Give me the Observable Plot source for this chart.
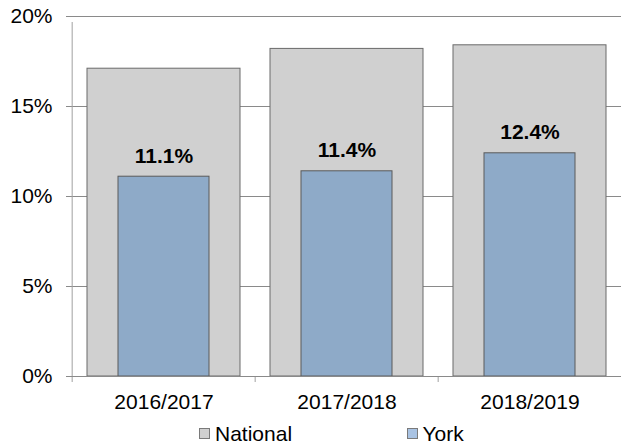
<!DOCTYPE html>
<html><head><meta charset="utf-8">
<script src="https://cdn.jsdelivr.net/npm/d3@7"></script>
<script src="https://cdn.jsdelivr.net/npm/@observablehq/plot@0.6"></script>
<style>
body{margin:0;background:#fff;font-family:"Liberation Sans",Arial,sans-serif;}
#legend{position:relative;width:621px;height:27px;font-size:21px;color:#000;}
.sw{position:absolute;width:9px;height:9px;border:1px solid #7a7a7a;}
.lb{position:absolute;line-height:1;white-space:nowrap;}
</style></head><body>
<div id="chart"></div>
<div id="legend"></div>
<script>
const years = ["2016/2017", "2017/2018", "2018/2019"];
const national = [17.1, 18.2, 18.4];
const york = [11.1, 11.4, 12.4];
const yTicks = [0, 5, 10, 15, 20];
const seriesNames = ["National", "York"];
const seriesFill = ["#d0d0d0", "#8eaac8"];
const legendFill = ["#d0d0d0", "#a9c3e3"];

const W = 621, H = 418, mL = 71, mR = -1, mT = 16, mB = 42;
const step = (W - mL - mR) / years.length;

const natData = years.map((y, i) => ({year: y, v: national[i]}));
const yorkData = years.map((y, i) => ({year: y, v: york[i]}));

const chart = Plot.plot({
  width: W, height: H,
  marginLeft: mL, marginRight: mR, marginTop: mT, marginBottom: mB,
  style: {fontFamily: "'Liberation Sans', Arial, sans-serif", fontSize: "21px", color: "#000", background: "#fff"},
  x: {type: "band", domain: years, padding: 0, label: null},
  y: {domain: [0, 20], label: null},
  marks: [
    Plot.ruleY(yTicks, {y: d => d, stroke: "#8a8a8a", strokeWidth: 1, insetLeft: -5}),
    Plot.barY(natData, {x: "year", y: "v", fill: seriesFill[0], stroke: "#6a6a6a", strokeWidth: 1, insetLeft: 15, insetRight: 15}),
    Plot.barY(yorkData, {x: "year", y: "v", fill: seriesFill[1], stroke: "#5a5a5a", strokeWidth: 1, insetLeft: 46, insetRight: 46}),
    Plot.ruleX([years[0]], {x: d => d, dx: -step / 2, y1: 0, y2: 20, stroke: "#a0a0a0", insetBottom: -6}),
    Plot.ruleX(years, {x: d => d, dx: -step / 2, y1: 0, y2: 0, stroke: "#a0a0a0", insetBottom: -6}),
    Plot.ruleY([0], {y: d => d, stroke: "#8a8a8a", insetLeft: -5}),
    Plot.text(yorkData, {x: "year", y: "v", text: d => d.v.toFixed(1) + "%", fontWeight: "bold", fontSize: 21, lineAnchor: "bottom", dy: -14, fill: "#000"}),
    Plot.axisY(yTicks, {tickFormat: d => d + "%", tickSize: 0, tickPadding: 19, fontSize: 21}),
    Plot.axisX({tickSize: 0, tickPadding: 18, fontSize: 21})
  ]
});
document.getElementById("chart").appendChild(chart);

const legend = document.getElementById("legend");
const swLeft = [199, 407];
const lbLeft = [215, 422.5];
seriesNames.forEach((name, i) => {
  const sw = document.createElement("div");
  sw.className = "sw";
  sw.style.left = swLeft[i] + "px";
  sw.style.top = "10px";
  sw.style.background = legendFill[i];
  legend.appendChild(sw);
  const lb = document.createElement("div");
  lb.className = "lb";
  lb.style.left = lbLeft[i] + "px";
  lb.style.top = "5px";
  lb.textContent = name;
  legend.appendChild(lb);
});
</script>
</body></html>
